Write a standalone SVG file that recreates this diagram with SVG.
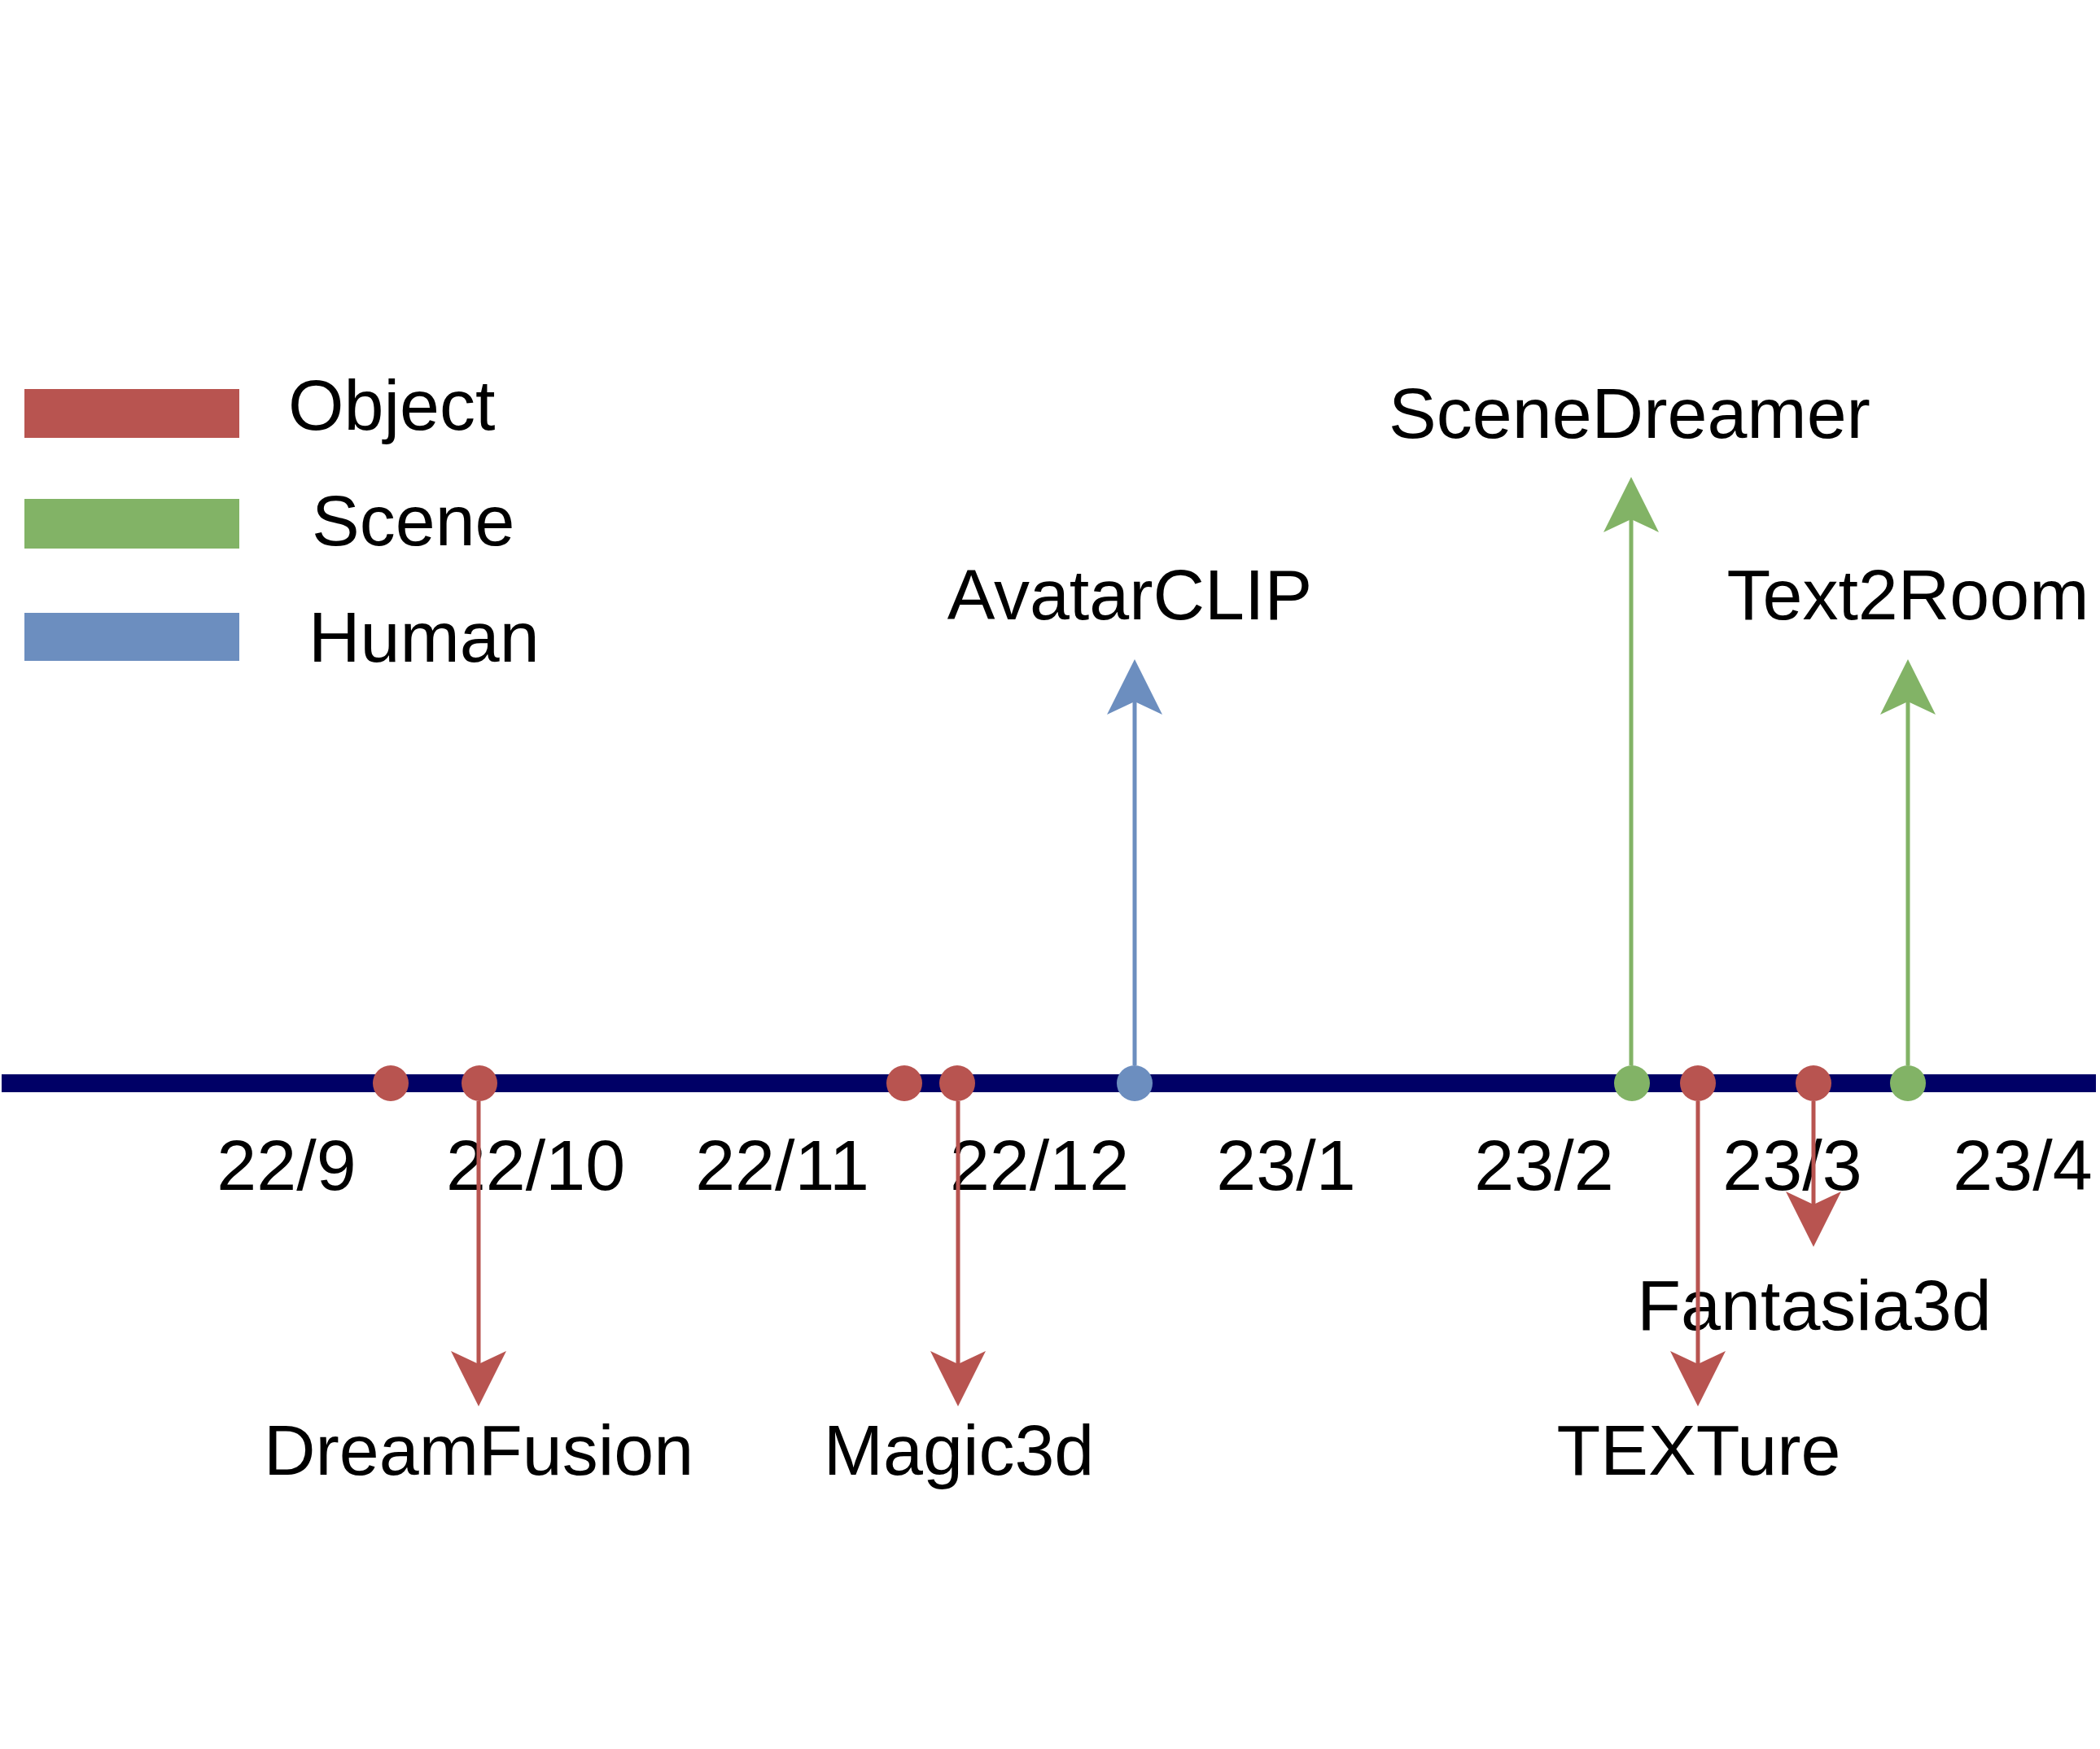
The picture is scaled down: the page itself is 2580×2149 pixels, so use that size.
<svg xmlns="http://www.w3.org/2000/svg" width="2580" height="2149" viewBox="0 0 2580 2149">
<style>
text{font-family:"Liberation Sans",Arial,sans-serif;font-size:88px;fill:#000}
.c{text-anchor:middle}
.red{fill:#B85450}.green{fill:#82B366}.blue{fill:#6C8EBF}
.lr{stroke:#B85450;stroke-width:5;fill:none}
.lg{stroke:#82B366;stroke-width:5;fill:none}
.lb{stroke:#6C8EBF;stroke-width:5;fill:none}
</style>
<defs>
<marker id="ar" markerUnits="userSpaceOnUse" orient="auto" overflow="visible" markerWidth="1" markerHeight="1"><path d="M52 0L-16 -34L0 0L-16 34Z" fill="#B85450"/></marker>
<marker id="ag" markerUnits="userSpaceOnUse" orient="auto" overflow="visible" markerWidth="1" markerHeight="1"><path d="M52 0L-16 -34L0 0L-16 34Z" fill="#82B366"/></marker>
<marker id="ab" markerUnits="userSpaceOnUse" orient="auto" overflow="visible" markerWidth="1" markerHeight="1"><path d="M52 0L-16 -34L0 0L-16 34Z" fill="#6C8EBF"/></marker>
</defs>
<rect width="2580" height="2149" fill="#fff"/>
<g id="legend">
<rect class="red" x="30" y="478" width="264" height="60"/>
<rect class="green" x="30" y="613" width="264" height="61"/>
<rect class="blue" x="30" y="753" width="264" height="59"/>
<text x="354" y="528">Object</text>
<text x="383" y="670">Scene</text>
<text x="379" y="813">Human</text>
</g>
<g id="axis">
<rect x="2" y="1320" width="2573" height="22" fill="#000066"/>
<text class="c" x="352" y="1462">22/9</text>
<text class="c" x="658" y="1462">22/10</text>
<text class="c" x="961" y="1462">22/11</text>
<text class="c" x="1277" y="1462">22/12</text>
<text class="c" x="1580" y="1462">23/1</text>
<text class="c" x="1897" y="1462">23/2</text>
<text class="c" x="2202" y="1462">23/3</text>
<text class="c" x="2485" y="1462">23/4</text>
</g>
<g id="dot-a"><circle class="red" cx="480" cy="1331" r="22"/></g>
<g id="dot-b"><circle class="red" cx="1111" cy="1331" r="22"/></g>
<g id="dreamfusion"><circle class="red" cx="589" cy="1331" r="22"/><text class="c" x="588" y="1812">DreamFusion</text></g>
<g id="magic3d"><circle class="red" cx="1176" cy="1331" r="22"/><text class="c" x="1178" y="1812">Magic3d</text></g>
<g id="avatarclip"><circle class="blue" cx="1394" cy="1331" r="22"/><text class="c" x="1388" y="761">AvatarCLIP</text></g>
<g id="scenedreamer"><circle class="green" cx="2005" cy="1331" r="22"/><text class="c" x="2002" y="538">SceneDreamer</text></g>
<g id="texture"><circle class="red" cx="2086" cy="1331" r="22"/><text class="c" x="2087" y="1812">TEXTure</text></g>
<g id="fantasia3d"><circle class="red" cx="2228" cy="1331" r="22"/><text class="c" x="2229" y="1634">Fantasia3d</text></g>
<g id="text2room"><circle class="green" cx="2344" cy="1331" r="22"/><text class="c" x="2344" y="761">Text2Room</text></g>
<g id="connectors">
<line class="lr" x1="588" y1="1353" x2="588" y2="1676" marker-end="url(#ar)"/>
<line class="lr" x1="1177" y1="1353" x2="1177" y2="1676" marker-end="url(#ar)"/>
<line class="lr" x1="2086" y1="1353" x2="2086" y2="1676" marker-end="url(#ar)"/>
<line class="lr" x1="2228" y1="1353" x2="2228" y2="1480" marker-end="url(#ar)"/>
<line class="lb" x1="1394" y1="1309" x2="1394" y2="862" marker-end="url(#ab)"/>
<line class="lg" x1="2004" y1="1309" x2="2004" y2="638" marker-end="url(#ag)"/>
<line class="lg" x1="2344" y1="1309" x2="2344" y2="862" marker-end="url(#ag)"/>
</g>
</svg>
